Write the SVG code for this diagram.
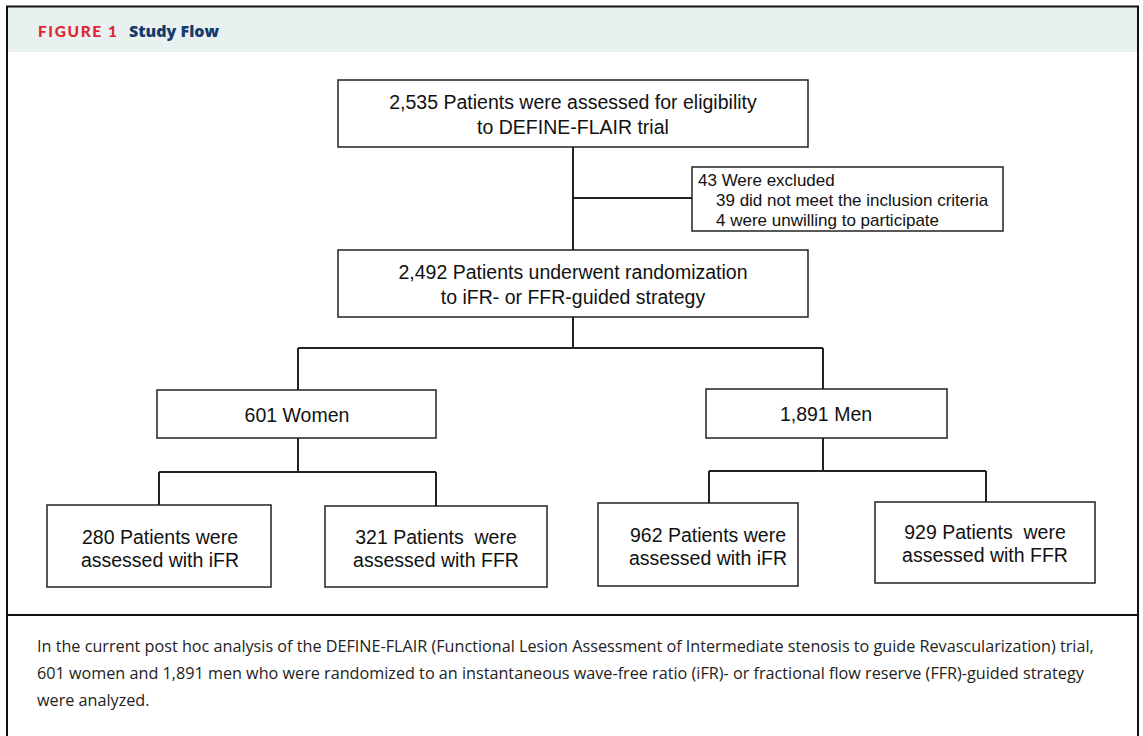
<svg xmlns="http://www.w3.org/2000/svg" width="1143" height="736" viewBox="0 0 1143 736">
<style>
.box{fill:#fff;stroke:#222;stroke-width:1.5}
.t{font-family:"Liberation Sans",Arial,sans-serif;font-size:19.5px;fill:#111;text-anchor:middle}
.tl{font-family:"Liberation Sans",Arial,sans-serif;font-size:17px;fill:#111}
.c{fill:none;stroke:#222;stroke-width:2}
.cap{font-family:"Open Sans",Lato,sans-serif;font-size:16.2px;fill:#222}
</style>
<rect x="0" y="0" width="1143" height="736" fill="#fff"/>
<rect x="7" y="7" width="1131" height="45" fill="#e8f1f0"/>
<path d="M7,740 V6.5 H1138 V740" fill="none" stroke="#111" stroke-width="2"/>
<line x1="7" y1="615" x2="1138" y2="615" stroke="#111" stroke-width="2"/>
<text x="38" y="37" font-family="Lato,'Open Sans',sans-serif" font-weight="900" font-size="15.5" letter-spacing="1.6" fill="#e0262f">FIGURE 1</text>
<text x="129" y="37" font-family="'Open Sans',Lato,sans-serif" font-weight="800" font-size="16" fill="#163a6b">Study Flow</text>
<g id="connectors">
<path class="c" d="M573,147 V250 M573,198 H692 M573,317 V348 M298,348 H823 M298,348 V390 M823,348 V389 M298,438 V472 M159,472 H436 M159,472 V505 M436,472 V506 M823,438 V471 M709,471 H986 M709,471 V503 M986,471 V502"/>
</g>
<g id="n-eligibility"><rect class="box" x="338" y="80" width="470" height="67"/><text class="t" x="573" y="109">2,535 Patients were assessed for eligibility</text><text class="t" x="573" y="134">to DEFINE-FLAIR trial</text></g>
<g id="n-excluded"><rect class="box" x="692" y="167" width="311" height="64"/><text class="tl" x="698" y="186">43 Were excluded</text><text class="tl" x="716" y="206">39 did not meet the inclusion criteria</text><text class="tl" x="716" y="226">4 were unwilling to participate</text></g>
<g id="n-random"><rect class="box" x="338" y="250" width="470" height="67"/><text class="t" x="573" y="279">2,492 Patients underwent randomization</text><text class="t" x="573" y="304">to iFR- or FFR-guided strategy</text></g>
<g id="n-women"><rect class="box" x="157" y="390" width="279" height="48"/><text class="t" x="297" y="422">601 Women</text></g>
<g id="n-men"><rect class="box" x="706" y="389" width="241" height="49"/><text class="t" x="826" y="421">1,891 Men</text></g>
<g id="n-w-ifr"><rect class="box" x="47" y="505" width="224" height="82"/><text class="t" x="160" y="544">280 Patients were</text><text class="t" x="160" y="567">assessed with iFR</text></g>
<g id="n-w-ffr"><rect class="box" x="325" y="506" width="222" height="81"/><text class="t" x="436" y="544" xml:space="preserve">321 Patients  were</text><text class="t" x="436" y="567">assessed with FFR</text></g>
<g id="n-m-ifr"><rect class="box" x="598" y="503" width="200" height="83"/><text class="t" x="708" y="542">962 Patients were</text><text class="t" x="708" y="565">assessed with iFR</text></g>
<g id="n-m-ffr"><rect class="box" x="875" y="502" width="220" height="81"/><text class="t" x="985" y="539" xml:space="preserve">929 Patients  were</text><text class="t" x="985" y="562">assessed with FFR</text></g>
<text class="cap" x="37" y="652">In the current post hoc analysis of the DEFINE-FLAIR (Functional Lesion Assessment of Intermediate stenosis to guide Revascularization) trial,</text>
<text class="cap" x="37" y="679">601 women and 1,891 men who were randomized to an instantaneous wave-free ratio (iFR)- or fractional flow reserve (FFR)-guided strategy</text>
<text class="cap" x="37" y="706">were analyzed.</text>
</svg>
